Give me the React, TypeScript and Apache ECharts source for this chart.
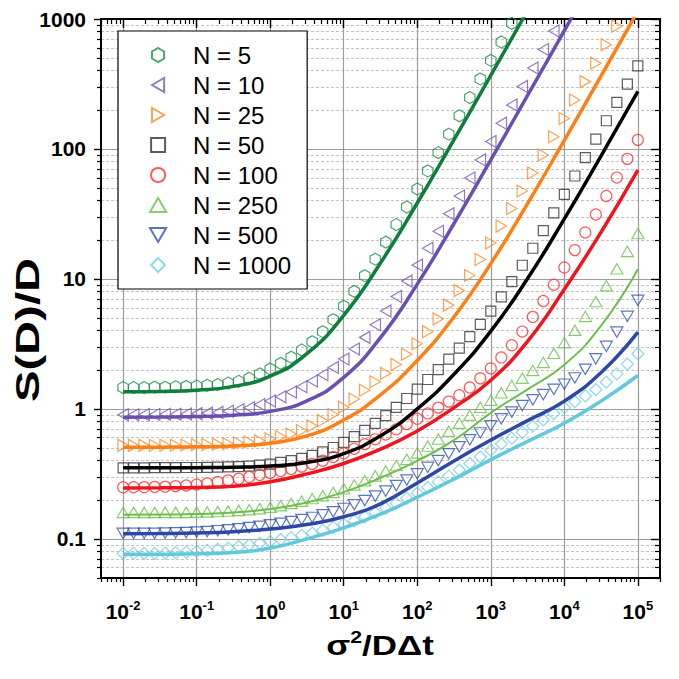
import React, { useEffect, useRef } from "react";
import * as echarts from "echarts";

// sigma^2 / (D dt) grid of the simulated points
const X_POINTS = [0.01, 0.01389, 0.01931, 0.02683, 0.03728, 0.05179, 0.07197, 0.1, 0.1389, 0.1931, 0.2683, 0.3728, 0.5179, 0.7197, 1, 1.389, 1.931, 2.683, 3.728, 5.179, 7.197, 10, 13.89, 19.31, 26.83, 37.28, 51.79, 71.97, 100, 138.9, 193.1, 268.3, 372.8, 517.9, 719.7, 1000, 1389, 1931, 2683, 3728, 5179, 7197, 10000, 13895, 19307, 26827, 37276, 51795, 71969, 100000];
// x positions of the theory curves
const LINE_X = [0.01, 0.0316, 0.1, 0.316, 1, 3.16, 10, 31.6, 100, 316, 1000, 3162, 10000, 31623, 100000];

const NAMES = ["N = 5", "N = 10", "N = 25", "N = 50", "N = 100", "N = 250", "N = 500", "N = 1000"];

// simulated S(D)/D (points above 1000 are off the chart)
const N5 = [1.46, 1.46, 1.46, 1.47, 1.47, 1.48, 1.49, 1.50, 1.52, 1.54, 1.58, 1.63, 1.72, 1.86, 2.03, 2.24, 2.50, 2.84, 3.29, 3.93, 4.86, 6.17, 8.02, 10.6, 14.2, 19.2, 26.2, 35.8, 49.2, 67.8, 93.8, 130, 180, 249, 346, 480, 666, 926];
const N10 = [0.902, 0.903, 0.904, 0.905, 0.908, 0.911, 0.915, 0.920, 0.928, 0.940, 0.958, 0.985, 1.02, 1.08, 1.15, 1.24, 1.35, 1.48, 1.64, 1.83, 2.08, 2.42, 2.89, 3.55, 4.44, 5.66, 7.32, 9.62, 12.8, 17.2, 23.3, 31.7, 43.5, 59.7, 82.4, 114, 158, 218, 303, 420, 583, 809];
const N25 = [0.524, 0.524, 0.524, 0.525, 0.525, 0.526, 0.528, 0.530, 0.532, 0.536, 0.540, 0.547, 0.556, 0.568, 0.589, 0.613, 0.641, 0.683, 0.740, 0.812, 0.905, 1.03, 1.19, 1.39, 1.62, 1.88, 2.20, 2.63, 3.17, 3.93, 4.93, 6.29, 8.13, 10.64, 14.11, 18.9, 25.5, 34.8, 47.5, 65.3, 89.9, 124.2, 171.7, 237.8, 329.7, 457.3, 634.6, 881];
const N50 = [0.352, 0.352, 0.352, 0.353, 0.353, 0.353, 0.354, 0.354, 0.355, 0.356, 0.358, 0.360, 0.363, 0.369, 0.3758, 0.3873, 0.3999, 0.4169, 0.4395, 0.4677, 0.5047, 0.5521, 0.6109, 0.6839, 0.7745, 0.8872, 1.028, 1.202, 1.419, 1.683, 2.004, 2.415, 2.938, 3.597, 4.467, 5.649, 7.278, 9.550, 12.74, 17.22, 23.55, 32.28, 44.67, 61.94, 85.90, 118.9, 164.8, 228.0, 315.5, 436.5];
const N100 = [0.2495, 0.2495, 0.250, 0.2512, 0.2523, 0.2547, 0.2576, 0.2618, 0.2673, 0.2742, 0.2818, 0.2904, 0.2999, 0.3105, 0.3214, 0.3327, 0.3451, 0.3597, 0.3776, 0.3999, 0.4266, 0.4560, 0.4932, 0.5358, 0.5834, 0.6353, 0.6966, 0.7638, 0.8395, 0.9226, 1.023, 1.138, 1.274, 1.462, 1.718, 2.051, 2.489, 3.090, 3.936, 5.105, 6.761, 9.016, 12.25, 16.67, 22.80, 31.33, 43.45, 60.26, 83.95, 117.5];
const N250 = [0.160, 0.160, 0.160, 0.160, 0.160, 0.160, 0.160, 0.1603, 0.1611, 0.1622, 0.1637, 0.1656, 0.1679, 0.1710, 0.1750, 0.1799, 0.1871, 0.1950, 0.2042, 0.2153, 0.2280, 0.2427, 0.2600, 0.2805, 0.3055, 0.3334, 0.3664, 0.4093, 0.4592, 0.5176, 0.5861, 0.6730, 0.7762, 0.8954, 1.028, 1.169, 1.330, 1.514, 1.726, 1.977, 2.280, 2.679, 3.236, 4.027, 5.152, 6.699, 8.872, 11.97, 16.29, 22.34];
const N500 = [0.1102, 0.1102, 0.1102, 0.1102, 0.1107, 0.1112, 0.1119, 0.1127, 0.1140, 0.1156, 0.1175, 0.1197, 0.1222, 0.1250, 0.1282, 0.1318, 0.1358, 0.1406, 0.1462, 0.1531, 0.1614, 0.1714, 0.1832, 0.1972, 0.2138, 0.2333, 0.2570, 0.2838, 0.3162, 0.3548, 0.3999, 0.4519, 0.5105, 0.5781, 0.6531, 0.7413, 0.8375, 0.9441, 1.059, 1.175, 1.288, 1.413, 1.549, 1.730, 2.018, 2.432, 3.027, 3.899, 5.152, 6.839];
const N1000 = [0.0773, 0.0773, 0.0773, 0.0774, 0.0778, 0.0783, 0.0791, 0.0802, 0.0815, 0.0832, 0.0851, 0.0873, 0.0897, 0.0925, 0.0955, 0.0989, 0.1023, 0.1064, 0.1109, 0.1161, 0.1225, 0.1297, 0.1380, 0.1479, 0.1592, 0.1722, 0.1875, 0.2051, 0.2254, 0.2483, 0.2742, 0.3041, 0.3388, 0.3802, 0.4266, 0.4808, 0.5370, 0.5957, 0.6607, 0.7362, 0.8222, 0.9204, 1.023, 1.135, 1.259, 1.406, 1.603, 1.862, 2.213, 2.655];

// theory curves S(D)/D at LINE_X
const FIT5 = [1.354, 1.363, 1.394, 1.491, 1.785, 2.66, 5.25, 13.26, 38.4, 117.9, 369, 1162];
const FIT10 = [0.864, 0.866, 0.873, 0.893, 0.957, 1.153, 1.746, 3.54, 9.12, 26.7, 82.3, 258, 814, 2571];
const FIT25 = [0.507, 0.508, 0.511, 0.519, 0.545, 0.620, 0.821, 1.283, 2.36, 5.11, 13.12, 38.0, 116.6, 365, 1150];
const FIT50 = [0.352, 0.352, 0.353, 0.356, 0.363, 0.387, 0.453, 0.620, 1.0, 1.848, 3.965, 10.07, 28.98, 88.6, 277];
const FIT100 = [0.2466, 0.2472, 0.2489, 0.2541, 0.2754, 0.3162, 0.3802, 0.4898, 0.6761, 1.023, 1.660, 3.311, 8.318, 22.91, 68.7];
const FIT250 = [0.1535, 0.1538, 0.1556, 0.1596, 0.1698, 0.1905, 0.2291, 0.2951, 0.3981, 0.5754, 0.933, 1.413, 2.188, 4.365, 11.86];
const FIT500 = [0.1096, 0.1099, 0.1109, 0.1135, 0.1189, 0.1288, 0.1479, 0.1862, 0.2692, 0.3981, 0.5754, 0.8128, 1.148, 1.905, 3.899];
const FIT1000 = [0.0760, 0.0762, 0.0769, 0.0785, 0.0851, 0.1, 0.1216, 0.1549, 0.2089, 0.2884, 0.4074, 0.5623, 0.7762, 1.148, 1.807];

const X_TICK_EXP = [-2, -1, 0, 1, 2, 3, 4, 5];
const Y_TICK_LABELS = ["0.1", "1", "10", "100", "1000"];

const POINTS = [N5, N10, N25, N50, N100, N250, N500, N1000];
const FITS = [FIT5, FIT10, FIT25, FIT50, FIT100, FIT250, FIT500, FIT1000];

const HEX = "path://M5,0 L9.33,2.5 L9.33,7.5 L5,10 L0.67,7.5 L0.67,2.5 Z";
const TRI_L = "path://M0,5 L8.66,0 L8.66,10 Z";
const TRI_R = "path://M8.66,5 L0,0 L0,10 Z";
const SQUARE = "path://M0,0 L10,0 L10,10 L0,10 Z";
const TRI_U = "path://M5,0 L10,8.66 L0,8.66 Z";
const TRI_D = "path://M0,0 L10,0 L5,8.66 Z";
const DIAMOND = "path://M5,0 L10,5 L5,10 L0,5 Z";

const STYLES = [
  { symbol: HEX, size: 12, mColor: "#1f8f4e", lColor: "#0f7d3c", lWidth: 3.5 },
  { symbol: TRI_L, size: 12, mColor: "#7457b8", lColor: "#6b4fb0", lWidth: 3.5 },
  { symbol: TRI_R, size: 12, mColor: "#ff8a2a", lColor: "#ff7f15", lWidth: 3.5 },
  { symbol: SQUARE, size: 10, mColor: "#333333", lColor: "#000000", lWidth: 3.5 },
  { symbol: "circle", size: 11, mColor: "#ff3030", lColor: "#f0141e", lWidth: 3.5 },
  { symbol: TRI_U, size: 12, mColor: "#6cbf4c", lColor: "#6cbf4c", lWidth: 2 },
  { symbol: TRI_D, size: 12, mColor: "#3553b0", lColor: "#2c48a4", lWidth: 3.5 },
  { symbol: DIAMOND, size: 12, mColor: "#6fd0e4", lColor: "#62c8de", lWidth: 3.5 },
];

const FONT = 'Arial, "Liberation Sans", Helvetica, sans-serif';
const L10 = (v: number) => Math.log10(v);
const XMIN = L10(0.005);
const XMAX = L10(200000);
const YMIN = L10(0.05);
const YMAX = 3;

function minorValues(lo: number, hi: number, nFrom: number, nTo: number) {
  const out: number[] = [];
  for (let n = nFrom; n <= nTo; n++) {
    for (let k = 2; k <= 9; k++) {
      const v = n + Math.log10(k);
      if (v >= lo - 1e-9 && v <= hi + 1e-9) out.push(v);
    }
  }
  return out;
}

export default function App() {
  const ref = useRef<HTMLDivElement>(null);

  useEffect(() => {
    document.body.style.margin = "0";
    if (!ref.current) return;
    const chart = echarts.init(ref.current, undefined, { renderer: "svg" });

    const yTickExp = Y_TICK_LABELS.map((s) => Math.round(L10(parseFloat(s))));
    const xMinor = minorValues(XMIN, XMAX, -3, 5);
    const yMinor = minorValues(YMIN, YMAX, -2, 2);

    const axisLine = { show: true, onZero: false, lineStyle: { color: "#000", width: 1.8 } };

    const xAxisBase = { type: "value", min: XMIN, max: XMAX, axisLine, splitLine: { show: false }, axisLabel: { show: false } };
    const yAxisBase = { type: "value", min: YMIN, max: YMAX, axisLine, splitLine: { show: false }, axisLabel: { show: false } };

    const xAxis: any[] = [
      {
        ...xAxisBase,
        position: "bottom",
        axisTick: { show: true, length: 8, lineStyle: { color: "#000", width: 1.4 }, customValues: X_TICK_EXP },
        splitLine: { show: true, lineStyle: { color: "#9c9c9c", width: 1.2 } },
        axisLabel: {
          show: true,
          margin: 21,
          customValues: X_TICK_EXP,
          formatter: (v: number) => `{b|10}{s|${Math.round(v)}}`,
          rich: {
            b: { fontFamily: FONT, fontWeight: "bold", fontSize: 21, color: "#000", lineHeight: 24 },
            s: { fontFamily: FONT, fontWeight: "bold", fontSize: 13, color: "#000", lineHeight: 14, verticalAlign: "top" },
          },
        },
      },
      {
        ...xAxisBase,
        position: "bottom",
        axisTick: { show: true, length: 4, lineStyle: { color: "#000", width: 1.2 }, customValues: xMinor },
      },
      {
        ...xAxisBase,
        position: "top",
        axisTick: { show: true, inside: true, length: 9, lineStyle: { color: "#000", width: 1.4 }, customValues: X_TICK_EXP },
      },
      {
        ...xAxisBase,
        position: "top",
        axisTick: { show: true, inside: true, length: 5, lineStyle: { color: "#000", width: 1.2 }, customValues: xMinor },
      },
    ];

    const yAxis: any[] = [
      {
        ...yAxisBase,
        position: "left",
        axisTick: { show: true, length: 7, lineStyle: { color: "#000", width: 1.4 }, customValues: yTickExp },
        splitLine: { show: true, lineStyle: { color: "#9c9c9c", width: 1.2 } },
        axisLabel: {
          show: true,
          margin: 15,
          customValues: yTickExp,
          formatter: (v: number) => Y_TICK_LABELS[yTickExp.indexOf(Math.round(v))],
          fontFamily: FONT,
          fontWeight: "bold",
          fontSize: 21,
          color: "#000",
        },
      },
      {
        ...yAxisBase,
        position: "left",
        axisTick: { show: true, length: 4, lineStyle: { color: "#000", width: 1.2 }, customValues: yMinor },
        splitLine: { show: true, lineStyle: { color: "#c4c4c4", width: 1, type: [3, 2] } },
      },
      {
        ...yAxisBase,
        position: "right",
        axisTick: { show: true, inside: true, length: 9, lineStyle: { color: "#000", width: 1.4 }, customValues: yTickExp },
      },
      {
        ...yAxisBase,
        position: "right",
        axisTick: { show: true, inside: true, length: 5, lineStyle: { color: "#000", width: 1.2 }, customValues: yMinor },
      },
    ];

    const series: any[] = [];
    NAMES.forEach((name, k) => {
      const st = STYLES[k];
      series.push({
        type: "scatter",
        name,
        xAxisIndex: 0,
        yAxisIndex: 0,
        data: POINTS[k].map((v, i) => [L10(X_POINTS[i]), L10(v)]),
        symbol: st.symbol,
        symbolSize: st.size,
        symbolKeepAspect: true,
        itemStyle: { color: "rgba(255,255,255,0)", borderColor: st.mColor, borderWidth: 1.2 },
        z: 3,
        silent: true,
      });
    });
    NAMES.forEach((name, k) => {
      const st = STYLES[k];
      series.push({
        type: "line",
        name: name + " theory",
        xAxisIndex: 0,
        yAxisIndex: 0,
        data: FITS[k].map((v, i) => [L10(LINE_X[i]), L10(v)]),
        showSymbol: false,
        symbol: "none",
        smooth: 0.5,
        lineStyle: { color: st.lColor, width: st.lWidth },
        z: 4,
        silent: true,
      });
    });

    chart.setOption({
      animation: false,
      backgroundColor: "#fff",
      grid: { left: 101, right: 19, top: 19, bottom: 101, containLabel: false },
      xAxis,
      yAxis,
      legend: {
        data: NAMES,
        orient: "vertical",
        left: 118,
        top: 31,
        itemWidth: 60,
        itemHeight: 14,
        itemGap: 6,
        padding: [12, 16, 12, 31],
        backgroundColor: "#fff",
        borderColor: "#000",
        borderWidth: 1.2,
        selectedMode: false,
        textStyle: { fontFamily: FONT, fontSize: 24, color: "#000", lineHeight: 24 },
        z: 10,
      },
      graphic: [
        {
          type: "text",
          x: 28,
          y: 330,
          rotation: Math.PI / 2,
          scaleX: 1.43,
          style: {
            text: "S(D)/D",
            fontFamily: FONT,
            fontWeight: "bold",
            fontSize: 33,
            fill: "#000",
            align: "center",
            verticalAlign: "middle",
          },
        },
        {
          type: "text",
          x: 380,
          y: 645,
          scaleX: 1.25,
          style: {
            text: "{a|σ}{s|2}{a|/DΔt}",
            align: "center",
            verticalAlign: "middle",
            rich: {
              a: { fontFamily: FONT, fontWeight: "bold", fontSize: 28, fill: "#000", lineHeight: 32 },
              s: { fontFamily: FONT, fontWeight: "bold", fontSize: 17, fill: "#000", lineHeight: 18, verticalAlign: "top" },
            },
          },
        },
      ],
      series,
    });

    return () => chart.dispose();
  }, []);

  return <div ref={ref} style={{ width: 679, height: 679 }} />;
}
